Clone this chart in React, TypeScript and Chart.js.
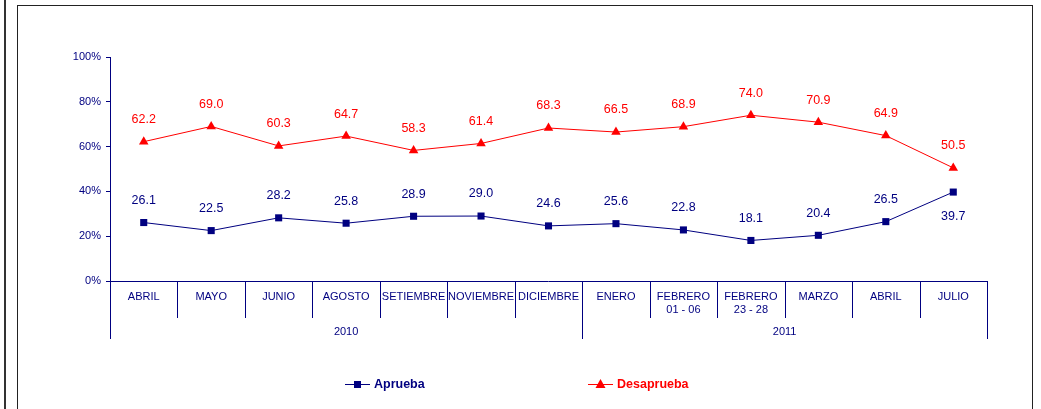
import React, { useEffect, useRef } from "react";
import Chart from "chart.js/auto";

const categories: string[][] = [
  ["ABRIL"], ["MAYO"], ["JUNIO"], ["AGOSTO"], ["SETIEMBRE"], ["NOVIEMBRE"], ["DICIEMBRE"],
  ["ENERO"], ["FEBRERO", "01 - 06"], ["FEBRERO", "23 - 28"], ["MARZO"], ["ABRIL"], ["JULIO"],
];
const years: string[] = ["2010", "2011"];
const yearSpans: number[] = [7, 6];
const aprueba: number[] = [26.1, 22.5, 28.2, 25.8, 28.9, 29.0, 24.6, 25.6, 22.8, 18.1, 20.4, 26.5, 39.7];
const desaprueba: number[] = [62.2, 69.0, 60.3, 64.7, 58.3, 61.4, 68.3, 66.5, 68.9, 74.0, 70.9, 64.9, 50.5];
const yTicks: number[] = [0, 20, 40, 60, 80, 100];

const NAVY = "#000080";
const RED = "#FF0000";
const FONT = "Arial, 'Liberation Sans', sans-serif";

const decorPlugin = {
  id: "decor",
  beforeDraw(chart: any) {
    const ctx = chart.ctx;
    ctx.save();
    ctx.fillStyle = "#fff";
    ctx.fillRect(0, 0, chart.width, chart.height);
    ctx.fillStyle = "#333";
    ctx.fillRect(4, 0, 2, chart.height);
    ctx.strokeStyle = "#222";
    ctx.lineWidth = 1;
    ctx.strokeRect(17.5, 5.5, 1015, chart.height + 10);
    ctx.restore();
  },
  afterDatasetsDraw(chart: any) {
    const ctx = chart.ctx;
    const x = chart.scales.x;
    const area = chart.chartArea;
    const bottom = area.bottom;
    const half = (x.getPixelForValue(1) - x.getPixelForValue(0)) / 2;
    ctx.save();
    // x axis line
    ctx.strokeStyle = NAVY;
    ctx.lineWidth = 1;
    ctx.beginPath();
    ctx.moveTo(area.left, Math.round(bottom) + 0.5);
    ctx.lineTo(area.right, Math.round(bottom) + 0.5);
    ctx.stroke();
    // separators
    const groupBounds = new Set<number>();
    let acc = 0;
    groupBounds.add(0);
    yearSpans.forEach((s) => { acc += s; groupBounds.add(acc); });
    for (let i = 0; i <= categories.length; i++) {
      const px = Math.round(x.getPixelForValue(0) - half + i * 2 * half) + 0.5;
      const len = groupBounds.has(i) ? 58 : 37;
      ctx.beginPath();
      ctx.moveTo(px, bottom);
      ctx.lineTo(px, bottom + len);
      ctx.stroke();
    }
    // category labels
    ctx.fillStyle = NAVY;
    ctx.font = `11px ${FONT}`;
    ctx.textAlign = "center";
    ctx.textBaseline = "middle";
    categories.forEach((lines, i) => {
      const cx = x.getPixelForValue(i);
      lines.forEach((ln, j) => ctx.fillText(ln, cx, bottom + 16 + j * 13));
    });
    // years
    let start = 0;
    years.forEach((yr, k) => {
      const l = x.getPixelForValue(start) - half;
      const r = x.getPixelForValue(start + yearSpans[k] - 1) + half;
      ctx.fillText(yr, (l + r) / 2, bottom + 51);
      start += yearSpans[k];
    });
    // data labels
    ctx.font = `12.5px ${FONT}`;
    chart.data.datasets.forEach((ds: any, di: number) => {
      const meta = chart.getDatasetMeta(di);
      ctx.fillStyle = ds.borderColor;
      meta.data.forEach((pt: any, i: number) => {
        const v = ds.data[i];
        let ly = pt.y - 22;
        if (di === 0 && i === ds.data.length - 1) ly = pt.y + 24;
        ctx.fillText(v.toFixed(1), pt.x, ly);
      });
    });
    // legend
    const ly = 384;
    const items = [
      { label: "Aprueba", color: NAVY, x0: 345, style: "rect" },
      { label: "Desaprueba", color: RED, x0: 588, style: "triangle" },
    ];
    ctx.font = `bold 12.5px ${FONT}`;
    ctx.textAlign = "left";
    items.forEach((it) => {
      ctx.strokeStyle = it.color;
      ctx.fillStyle = it.color;
      ctx.lineWidth = 1;
      ctx.beginPath();
      ctx.moveTo(it.x0, ly + 0.5);
      ctx.lineTo(it.x0 + 25, ly + 0.5);
      ctx.stroke();
      const mx = it.x0 + 12.5;
      ctx.beginPath();
      if (it.style === "rect") {
        ctx.rect(mx - 3.5, ly - 3, 7, 7);
      } else {
        ctx.moveTo(mx, ly - 5);
        ctx.lineTo(mx + 5, ly + 4);
        ctx.lineTo(mx - 5, ly + 4);
        ctx.closePath();
      }
      ctx.fill();
      ctx.fillText(it.label, it.x0 + 29, ly + 1);
    });
    ctx.restore();
  },
};

export default function App() {
  const ref = useRef<HTMLCanvasElement | null>(null);
  useEffect(() => {
    if (!ref.current) return;
    const chart = new Chart(ref.current, {
      type: "line",
      data: {
        labels: categories.map((c) => c.join(" ")),
        datasets: [
          {
            label: "Aprueba",
            data: aprueba,
            borderColor: NAVY,
            backgroundColor: NAVY,
            borderWidth: 1,
            pointStyle: "rect",
            pointRadius: 5,
            pointBorderWidth: 0,
            tension: 0,
          },
          {
            label: "Desaprueba",
            data: desaprueba,
            borderColor: RED,
            backgroundColor: RED,
            borderWidth: 1,
            pointStyle: "triangle",
            pointRadius: 5.5,
            pointBorderWidth: 0,
            tension: 0,
          },
        ],
      },
      options: {
        animation: false,
        responsive: true,
        maintainAspectRatio: false,
        layout: { padding: { left: 0, right: 54, top: 57, bottom: 128 } },
        plugins: { legend: { display: false }, tooltip: { enabled: false } },
        scales: {
          x: { type: "category", offset: true, display: false },
          y: {
            min: 0,
            max: 100,
            afterFit(scale: any) { scale.width = 110; },
            afterBuildTicks(scale: any) { scale.ticks = yTicks.map((v) => ({ value: v })); },
            border: { color: NAVY, width: 1 },
            grid: { drawOnChartArea: false, tickLength: 4, color: NAVY },
            ticks: {
              color: NAVY,
              padding: 5,
              font: { family: FONT, size: 11 },
              callback: (v: any) => `${v}%`,
            },
          },
        },
      },
      plugins: [decorPlugin],
    });
    return () => chart.destroy();
  }, []);
  return (
    <div style={{ position: "absolute", left: 0, top: 0, width: 1041, height: 409 }}>
      <canvas ref={ref} />
    </div>
  );
}
